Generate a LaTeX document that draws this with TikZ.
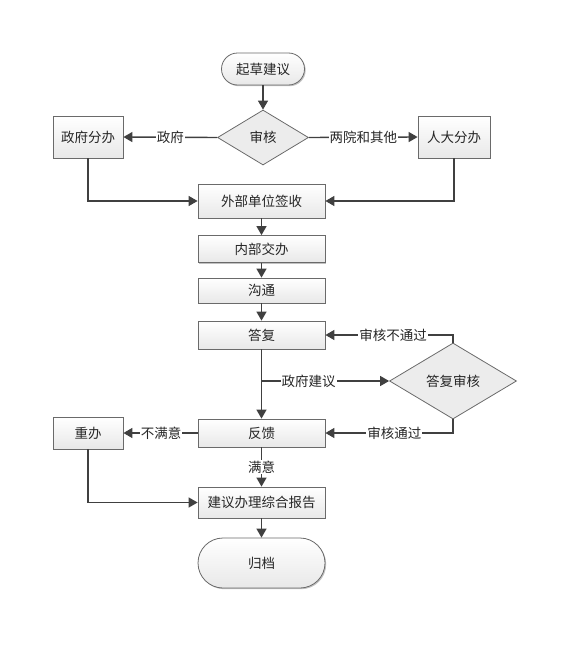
\documentclass[tikz,border=0pt]{standalone}
\usepackage{fontspec}
\setmainfont{Noto Sans CJK SC}
\usetikzlibrary{arrows.meta,shapes.geometric,shadows}
\definecolor{edge}{HTML}{404040}
\definecolor{bord}{HTML}{6A6A6A}
\definecolor{txt}{HTML}{262626}
\begin{document}
\begin{tikzpicture}[x=1pt,y=-1pt,
  font=\fontsize{13.5}{15}\selectfont,text=txt,
  box/.style={draw=bord,line width=0.8pt,top color=white,bottom color=gray!18,
    drop shadow={shadow xshift=1.2pt,shadow yshift=-1.2pt,fill=gray!60,opacity=0.8},
    minimum width=127pt,minimum height=#1,inner sep=0pt},
  sbox/.style={draw=bord,line width=0.8pt,top color=white,bottom color=gray!18,
    drop shadow={shadow xshift=1.2pt,shadow yshift=-1.2pt,fill=gray!60,opacity=0.8},
    minimum width=71pt,minimum height=#1,inner sep=0pt},
  term/.style={draw=bord,line width=0.8pt,rounded corners=#1,top color=white,bottom color=gray!18,
    drop shadow={shadow xshift=1.2pt,shadow yshift=-1.2pt,fill=gray!60,opacity=0.8},inner sep=0pt},
  dia/.style={diamond,draw=bord,line width=0.8pt,fill=gray!15,aspect=#1,inner sep=0pt},
  conn/.style={draw=edge,line width=1.4pt,-{Triangle[length=9pt,width=10pt]}},
  lab/.style={fill=white,inner sep=1pt}]
\useasboundingbox (0,0) rectangle (573,645);

\node[term=16pt,minimum width=83pt,minimum height=32pt] (start) at (263,69) {起草建议};
\node[dia=1.65,minimum width=91pt,minimum height=55pt] (audit) at (263,137.5) {审核};
\node[sbox=42pt,minimum width=70pt] (gov) at (88,137) {政府分办};
\node[sbox=42pt,minimum width=72pt] (npc) at (454,137) {人大分办};
\node[box=34pt] (sign) at (261.5,201) {外部单位签收};
\node[box=27pt] (inner) at (261.5,249) {内部交办};
\node[box=25pt] (comm) at (261.5,290.5) {沟通};
\node[box=28pt] (reply) at (261.5,335) {答复};
\node[dia=1.67,minimum width=127pt,minimum height=76pt] (raudit) at (453,381) {答复审核};
\node[box=28pt] (fb) at (261.5,433) {反馈};
\node[sbox=32pt,minimum width=70pt] (redo) at (88,433) {重办};
\node[box=31pt] (report) at (261.5,502.5) {建议办理综合报告};
\node[term=25pt,minimum width=127pt,minimum height=50pt] (arch) at (261.5,563) {归档};

\coordinate (c1) at (261.5,381);

\draw[conn] (start) -- (audit);
\draw[conn] (audit.west) -- node[lab,pos=0.5]{政府} (gov.east);
\draw[conn] (audit.east) -- node[lab,pos=0.5]{两院和其他} (npc.west);
\draw[conn] (gov.south) |- (sign.west);
\draw[conn] (npc.south) |- (sign.east);
\draw[conn] (sign) -- (inner);
\draw[conn] (inner) -- (comm);
\draw[conn] (comm) -- (reply);
\draw[conn] (reply) -- (fb);
\draw[conn] (c1) -- node[lab,pos=0.37]{政府建议} (raudit.west);
\draw[conn] (raudit.north) |- node[lab,pos=0.735]{审核不通过} (reply.east);
\draw[conn] (raudit.south) |- node[lab,pos=0.73]{审核通过} (fb.east);
\draw[conn] (fb.west) -- node[lab,pos=0.49]{不满意} (redo.east);
\draw[conn] (fb.south) -- node[lab,pos=0.5]{满意} (report.north);
\draw[conn] (redo.south) |- (report.west);
\draw[conn] (report) -- (arch);
\end{tikzpicture}
\end{document}
